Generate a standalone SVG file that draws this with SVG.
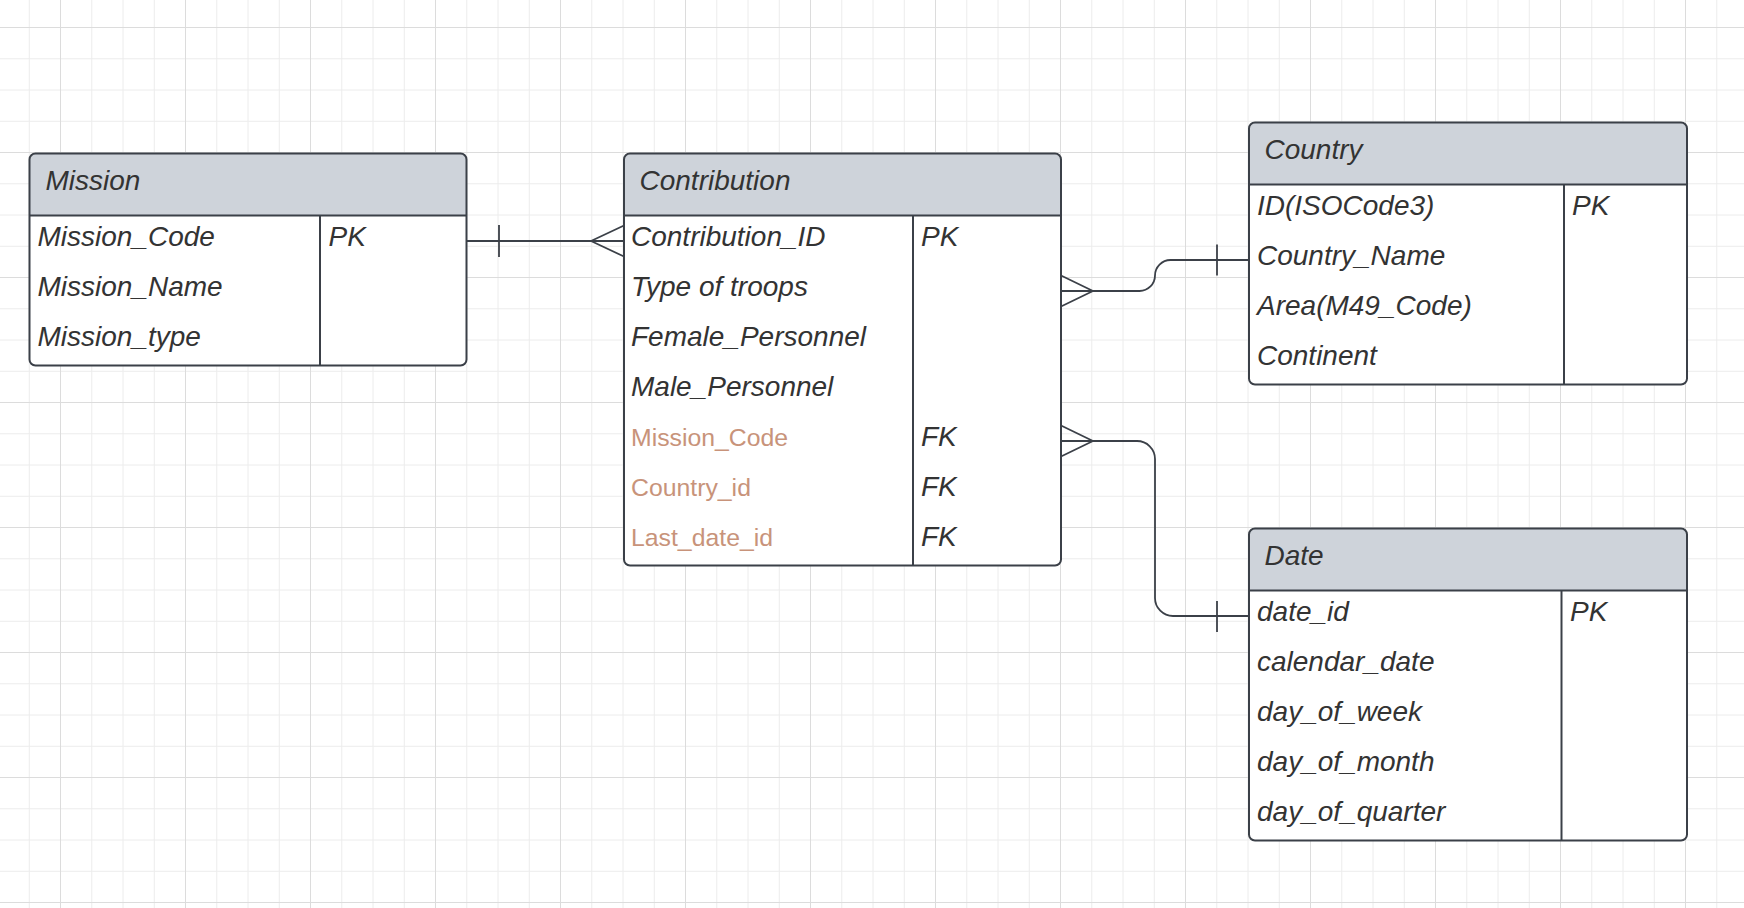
<svg xmlns="http://www.w3.org/2000/svg" width="1744" height="908" viewBox="0 0 1744 908">
  <defs>
    <!-- canvas grid: minor lines every 31.25px, major lines every 125px -->
    <pattern id="grid" patternUnits="userSpaceOnUse" x="60" y="27" width="125" height="125">
      <g stroke="#ececec" stroke-width="1">
        <path d="M31.75,0 V125 M63,0 V125 M94.25,0 V125"/>
        <path d="M0,31.75 H125 M0,63 H125 M0,94.25 H125"/>
      </g>
      <g stroke="#dcdcdc" stroke-width="1">
        <path d="M0.5,0 V125 M0,0.5 H125"/>
      </g>
    </pattern>
    <style>
      .body { fill: #ffffff; stroke: none; }
      .head { fill: #ced3da; stroke: none; }
      .frame { fill: none; stroke: #3b4048; stroke-width: 2; }
      .rule { stroke: #3b4048; stroke-width: 2; }
      .title, .attr { font-family: "Liberation Sans", Arial, sans-serif; font-style: italic; font-size: 28px; fill: #333333; }
      .fk { font-family: "Liberation Sans", Arial, sans-serif; font-size: 24.8px; fill: #c8937a; }
      .link { fill: none; stroke: #3b4048; stroke-width: 1.8; }
    </style>
  </defs>

  <rect width="1744" height="908" fill="#ffffff"/>
  <rect width="1744" height="908" fill="url(#grid)"/>

  <!-- relationships -->
  <g id="connectors">
    <!-- Mission 1 : N Contribution -->
    <path class="link" d="M466.5,241 H624"/>
    <path class="link" d="M499,225 V257"/>
    <path class="link" d="M591,241 L624,225.5 M591,241 L624,256.5"/>
    <!-- Contribution N : 1 Country -->
    <path class="link" d="M1061,291 H1139.5 A15.5,15.5 0 0 0 1155,275.5 A15.5,15.5 0 0 1 1170.5,260 H1249"/>
    <path class="link" d="M1217,244.5 V275.5"/>
    <path class="link" d="M1093,291 L1061,275.5 M1093,291 L1061,306.5"/>
    <!-- Contribution N : 1 Date -->
    <path class="link" d="M1061,441 H1137 A18,18 0 0 1 1155,459 V598 A18,18 0 0 0 1173,616 H1249"/>
    <path class="link" d="M1217,601 V632"/>
    <path class="link" d="M1093,441 L1061,425.5 M1093,441 L1061,456.5"/>
  </g>

  <!-- Mission -->
  <g id="mission">
    <rect class="body" x="29.5" y="153.5" width="437" height="212" rx="6"/>
    <path class="head" d="M29.5,215.5 V159.5 Q29.5,153.5 35.5,153.5 H460.5 Q466.5,153.5 466.5,159.5 V215.5 Z"/>
    <line class="rule" x1="29.5" y1="215.5" x2="466.5" y2="215.5"/>
    <line class="rule" x1="320" y1="215.5" x2="320" y2="365.5"/>
    <rect class="frame" x="29.5" y="153.5" width="437" height="212" rx="6"/>
    <text class="title" x="45.5" y="190">Mission</text>
    <text class="attr" x="37.5" y="245.5">Mission_Code</text>
    <text class="attr" x="37.5" y="295.5">Mission_Name</text>
    <text class="attr" x="37.5" y="345.5">Mission_type</text>
    <text class="attr" x="328.5" y="245.5">PK</text>
  </g>

  <!-- Contribution -->
  <g id="contribution">
    <rect class="body" x="624" y="153.5" width="437" height="412" rx="6"/>
    <path class="head" d="M624,215.5 V159.5 Q624,153.5 630,153.5 H1055 Q1061,153.5 1061,159.5 V215.5 Z"/>
    <line class="rule" x1="624" y1="215.5" x2="1061" y2="215.5"/>
    <line class="rule" x1="913" y1="215.5" x2="913" y2="565.5"/>
    <rect class="frame" x="624" y="153.5" width="437" height="412" rx="6"/>
    <text class="title" x="639.5" y="190">Contribution</text>
    <text class="attr" x="631" y="245.5">Contribution_ID</text>
    <text class="attr" x="631" y="295.5">Type of troops</text>
    <text class="attr" x="631" y="345.5">Female_Personnel</text>
    <text class="attr" x="631" y="395.5">Male_Personnel</text>
    <text class="fk" x="631" y="445.5">Mission_Code</text>
    <text class="fk" x="631" y="495.5">Country_id</text>
    <text class="fk" x="631" y="545.5">Last_date_id</text>
    <text class="attr" x="921" y="245.5">PK</text>
    <text class="attr" x="921" y="445.5">FK</text>
    <text class="attr" x="921" y="495.5">FK</text>
    <text class="attr" x="921" y="545.5">FK</text>
  </g>

  <!-- Country -->
  <g id="country">
    <rect class="body" x="1249" y="122.5" width="438" height="262" rx="6"/>
    <path class="head" d="M1249,184.5 V128.5 Q1249,122.5 1255,122.5 H1681 Q1687,122.5 1687,128.5 V184.5 Z"/>
    <line class="rule" x1="1249" y1="184.5" x2="1687" y2="184.5"/>
    <line class="rule" x1="1564" y1="184.5" x2="1564" y2="384.5"/>
    <rect class="frame" x="1249" y="122.5" width="438" height="262" rx="6"/>
    <text class="title" x="1264.5" y="159">Country</text>
    <text class="attr" x="1257" y="214.5">ID(ISOCode3)</text>
    <text class="attr" x="1257" y="264.5">Country_Name</text>
    <text class="attr" x="1257" y="314.5">Area(M49_Code)</text>
    <text class="attr" x="1257" y="364.5">Continent</text>
    <text class="attr" x="1572" y="214.5">PK</text>
  </g>

  <!-- Date -->
  <g id="date">
    <rect class="body" x="1249" y="528.5" width="438" height="312" rx="6"/>
    <path class="head" d="M1249,590.5 V534.5 Q1249,528.5 1255,528.5 H1681 Q1687,528.5 1687,534.5 V590.5 Z"/>
    <line class="rule" x1="1249" y1="590.5" x2="1687" y2="590.5"/>
    <line class="rule" x1="1561.5" y1="590.5" x2="1561.5" y2="840.5"/>
    <rect class="frame" x="1249" y="528.5" width="438" height="312" rx="6"/>
    <text class="title" x="1264.5" y="565">Date</text>
    <text class="attr" x="1257" y="620.5">date_id</text>
    <text class="attr" x="1257" y="670.5">calendar_date</text>
    <text class="attr" x="1257" y="720.5">day_of_week</text>
    <text class="attr" x="1257" y="770.5">day_of_month</text>
    <text class="attr" x="1257" y="820.5">day_of_quarter</text>
    <text class="attr" x="1570" y="620.5">PK</text>
  </g>
</svg>
